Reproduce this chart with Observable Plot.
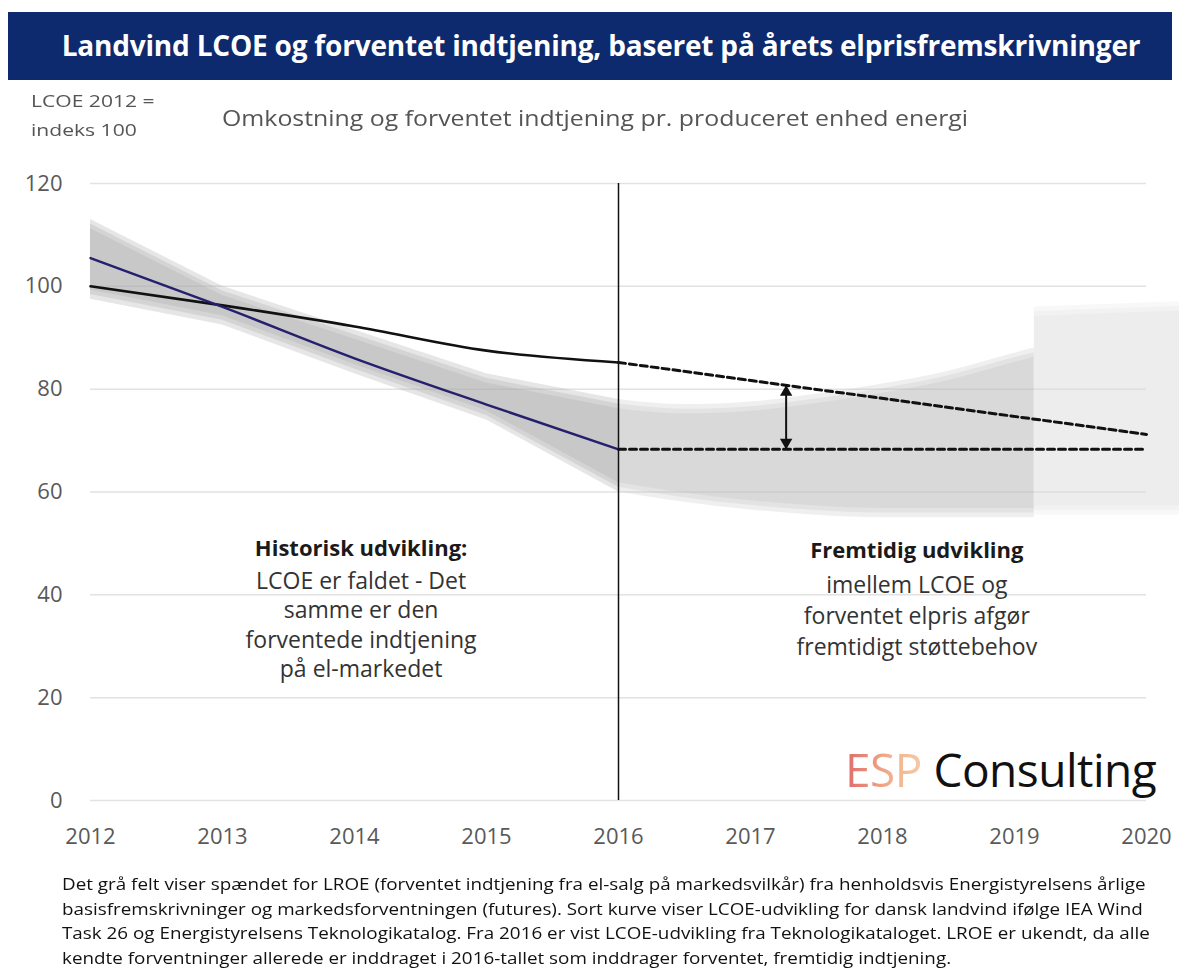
<!DOCTYPE html>
<html><head><meta charset="utf-8">
<script src="https://cdn.jsdelivr.net/npm/d3@7"></script>
<script src="https://cdn.jsdelivr.net/npm/@observablehq/plot@0.6"></script>
<style>
body{margin:0;background:#fff;font-family:"Open Sans",sans-serif;}
#page{position:relative;width:1180px;height:972px;overflow:hidden;background:#fff;}
#title{position:absolute;left:8px;top:12px;width:1142px;padding-left:22px;height:68px;background:#0d2a6e;color:#fff;font-weight:700;font-size:28px;line-height:66px;text-align:center;white-space:nowrap;letter-spacing:-0.2px;}
#unit{position:absolute;left:31px;top:86px;font-size:17px;line-height:29px;color:#555;white-space:nowrap;transform:scaleX(1.24);transform-origin:left top;}
#subtitle{position:absolute;left:222px;top:101px;font-size:22px;line-height:32px;color:#555;white-space:nowrap;transform:scaleX(1.13);transform-origin:left top;}
#chart{position:absolute;left:0;top:150px;}
#logo{position:absolute;left:845px;top:746px;font-size:46px;line-height:46px;white-space:nowrap;color:#111;letter-spacing:-0.5px;}
#logo .esp{background:linear-gradient(90deg,#e06a6a,#f2b08a 60%,#f6c9a8);-webkit-background-clip:text;background-clip:text;color:transparent;}
#caption{position:absolute;left:62px;top:872px;font-size:15.5px;line-height:24.7px;color:#111;white-space:nowrap;transform:scaleX(1.215);transform-origin:left top;}
</style></head>
<body><div id="page">
<div id="title">Landvind LCOE og forventet indtjening, baseret på årets elprisfremskrivninger</div>
<div id="unit">LCOE 2012 =<br>indeks 100</div>
<div id="subtitle">Omkostning og forventet indtjening pr. produceret enhed energi</div>
<div id="chart"></div>
<div id="logo"><span class="esp">ESP</span> Consulting</div>
<div id="caption"></div>
</div>
<script>
// ---- data ----
const years = [2012, 2013, 2014, 2015, 2016];
const lcoeHist = [100, 96.3, 92.2, 87.5, 85.2];        // black line
const lroeHist = [105.5, 96, 86, 77, 68.3];            // blue line
const forecastYears = [2016, 2020];
const lcoeForecast = [85.2, 71.2];                     // dashed black
const lcoeFlat = [68.3, 68.3];                         // dashed flat
const bandHistYears = [2012, 2013, 2014, 2015, 2016];
const bandHistLow  = [97.5, 92.5, 83, 74, 60];
const bandHistHigh = [113, 100, 91.5, 83, 78];
const bandFutYears = [2016, 2016.5, 2017, 2017.5, 2018, 2018.5, 2019, 2019.15];
const bandFutLow   = [60, 58, 56.5, 55.5, 55, 55, 55, 55];
const bandFutHigh  = [78, 77, 77.5, 79, 81, 83.5, 87, 88];
const bandLightYears = [2019.15, 2020.25];
const bandLightLow   = [55.5, 55.5];
const bandLightHigh  = [96, 97];
const softSteps = [0, 0.9, 1.8];                       // inward edge-softening layers (index units)
const gapYear = 2017.27;
const xTicks = [2012, 2013, 2014, 2015, 2016, 2017, 2018, 2019, 2020];
const yTicks = [0, 20, 40, 60, 80, 100, 120];
const histHeading = "Historisk udvikling:";
const histBody = ["LCOE er faldet - Det", "samme er den", "forventede indtjening", "på el-markedet"];
const histPos = {x: 2014.05, yHead: 49.0, yBody: 34.4};
const futHeading = "Fremtidig udvikling";
const futBody = ["imellem LCOE og", "forventet elpris afgør", "fremtidigt støttebehov"];
const futPos = {x: 2018.26, yHead: 48.6, yBody: 36.2};
const captionLines = [
  "Det grå felt viser spændet for LROE (forventet indtjening fra el-salg på markedsvilkår) fra henholdsvis Energistyrelsens årlige",
  "basisfremskrivninger og markedsforventningen (futures). Sort kurve viser LCOE-udvikling for dansk landvind ifølge IEA Wind",
  "Task 26 og Energistyrelsens Teknologikatalog. Fra 2016 er vist LCOE-udvikling fra Teknologikataloget. LROE er ukendt, da alle",
  "kendte forventninger allerede er inddraget i 2016-tallet som inddrager forventet, fremtidig indtjening."
];

// ---- tables ----
const zipXY = (xs, ys) => xs.map((x, i) => ({x, y: ys[i]}));
const zipBand = (xs, lo, hi) => xs.map((x, i) => ({x, y1: lo[i], y2: hi[i]}));
const lcoeH = zipXY(years, lcoeHist);
const lroeH = zipXY(years, lroeHist);
const lcoeF = zipXY(forecastYears, lcoeForecast);
const flatF = zipXY(forecastYears, lcoeFlat);
const bandH = zipBand(bandHistYears, bandHistLow, bandHistHigh);
const bandF = zipBand(bandFutYears, bandFutLow, bandFutHigh);
const bandL = zipBand(bandLightYears, bandLightLow, bandLightHigh);
const t = (gapYear - forecastYears[0]) / (forecastYears[1] - forecastYears[0]);
const gapTop = lcoeForecast[0] + t * (lcoeForecast[1] - lcoeForecast[0]);
const gapBottom = lcoeFlat[0];
const gap = [{x: gapYear, y1: gapBottom, y2: gapTop}];

// soft-edged band: stacked translucent copies, each a little narrower
const softBand = (rows, fill, opacity, curve) => softSteps.map(d =>
  Plot.areaY(rows.map(r => ({x: r.x, y1: r.y1 + d, y2: r.y2 - d})),
    {x: "x", y1: "y1", y2: "y2", fill, fillOpacity: opacity, curve}));

const chart = Plot.plot({
  width: 1180,
  height: 700,
  marginLeft: 90,
  marginRight: 34,
  marginTop: 33,
  marginBottom: 50,
  style: {fontFamily: "Open Sans, sans-serif", fontSize: "22px", color: "#595959", background: "transparent", overflow: "visible"},
  x: {domain: [2012, 2020], ticks: xTicks, tickFormat: d => String(d), tickSize: 0, tickPadding: 28, label: null},
  y: {domain: [0, 120], ticks: yTicks, tickSize: 0, tickPadding: 28, label: null},
  marks: [
    Plot.ruleY(yTicks, {stroke: "#e2e2e2", strokeWidth: 1.5}),
    ...softBand(bandH, "#acacac", 0.3, "linear"),
    ...softBand(bandF, "#bcbcbc", 0.24, "monotone-x"),
    ...softBand(bandL, "#dcdcdc", 0.2, "linear"),
    Plot.ruleX([2016], {y1: 0, y2: 120, stroke: "#111", strokeWidth: 1.5}),
    Plot.line(lcoeH, {x: "x", y: "y", stroke: "#111", strokeWidth: 2.6, curve: "monotone-x"}),
    Plot.line(lroeH, {x: "x", y: "y", stroke: "#25206e", strokeWidth: 2.4, curve: "monotone-x"}),
    Plot.line(lcoeF, {x: "x", y: "y", stroke: "#111", strokeWidth: 3, strokeDasharray: "7,4"}),
    Plot.line(flatF, {x: "x", y: "y", stroke: "#111", strokeWidth: 3, strokeDasharray: "7,4"}),
    Plot.link(gap, {x1: "x", x2: "x", y1: "y1", y2: "y2", stroke: "#111", strokeWidth: 2}),
    Plot.dot(gap, {x: "x", y: "y2", symbol: "triangle", r: 4.6, fill: "#111", stroke: "none", dy: 7}),
    Plot.dot(gap, {x: "x", y: "y1", symbol: "triangle", r: 4.6, fill: "#111", stroke: "none", dy: -7, rotate: 180}),
    Plot.text([histHeading], {x: histPos.x, y: histPos.yHead, text: d => d, fontSize: 22, fontWeight: "bold", fill: "#1a1a1a"}),
    Plot.text([histBody.join("\n")], {x: histPos.x, y: histPos.yBody, text: d => d, fontSize: 23, lineHeight: 1.283, fill: "#333"}),
    Plot.text([futHeading], {x: futPos.x, y: futPos.yHead, text: d => d, fontSize: 22, fontWeight: "bold", fill: "#1a1a1a"}),
    Plot.text([futBody.join("\n")], {x: futPos.x, y: futPos.yBody, text: d => d, fontSize: 23, lineHeight: 1.348, fill: "#333"})
  ]
});
document.getElementById("chart").appendChild(chart);
document.getElementById("caption").innerHTML = captionLines.join("<br>");
</script>
</body></html>
